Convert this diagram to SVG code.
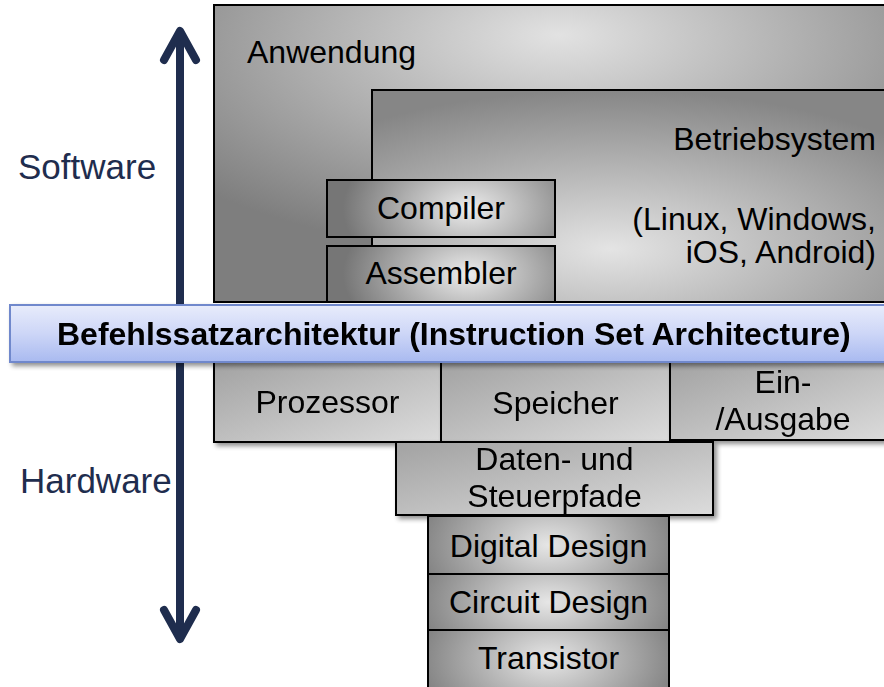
<svg xmlns="http://www.w3.org/2000/svg" width="884" height="687" viewBox="0 0 884 687">
<defs>
  <radialGradient id="gApp" cx="0.5" cy="0.15" r="0.7" fx="0.5" fy="0.1">
    <stop offset="0" stop-color="#e2e2e2"/>
    <stop offset="1" stop-color="#7e7e7e"/>
  </radialGradient>
  <radialGradient id="gOS" cx="0.45" cy="0.75" r="0.75">
    <stop offset="0" stop-color="#e4e4e4"/>
    <stop offset="1" stop-color="#868686"/>
  </radialGradient>
  <radialGradient id="gStack" cx="0.62" cy="0.5" r="0.55" gradientTransform="translate(0.62 0.5) scale(1 2.5) translate(-0.62 -0.5)">
    <stop offset="0" stop-color="#ececec"/>
    <stop offset="1" stop-color="#767676"/>
  </radialGradient>
  <radialGradient id="gLow" cx="0.5" cy="0.5" r="0.6" gradientTransform="translate(0.5 0.5) scale(1 2.5) translate(-0.5 -0.5)">
    <stop offset="0" stop-color="#e6e6e6"/>
    <stop offset="1" stop-color="#777777"/>
  </radialGradient>
  <linearGradient id="gHw" x1="0" y1="0" x2="1" y2="1">
    <stop offset="0" stop-color="#a2a2a2"/>
    <stop offset="1" stop-color="#dcdcdc"/>
  </linearGradient>
  <linearGradient id="gIsa" x1="0" y1="0" x2="0" y2="1">
    <stop offset="0" stop-color="#e8ecfb"/>
    <stop offset="0.5" stop-color="#cdd6f7"/>
    <stop offset="1" stop-color="#a9baf0"/>
  </linearGradient>
  <filter id="shadow" x="-5%" y="-10%" width="115%" height="130%">
    <feGaussianBlur in="SourceAlpha" stdDeviation="2.5"/>
    <feOffset dx="3" dy="3" result="b"/>
    <feComponentTransfer><feFuncA type="linear" slope="0.45"/></feComponentTransfer>
    <feMerge><feMergeNode/><feMergeNode in="SourceGraphic"/></feMerge>
  </filter>
</defs>
<style>
  .box { stroke: #000000; stroke-width: 2; }
  .t { font-family: "Liberation Sans", Arial, sans-serif; font-size: 32px; fill: #000000; }
  .c { text-anchor: middle; }
  .r { text-anchor: end; }
  .lbl { font-family: "Liberation Sans", Arial, sans-serif; font-size: 35px; fill: #1f2d4e; }
  .arr { stroke: #1f2d4e; stroke-width: 8; fill: none; stroke-linecap: round; stroke-linejoin: round; }
</style>

<g id="connectors">
  <line class="arr" x1="180" y1="33" x2="180" y2="637"/>
  <polyline class="arr" points="164,60 180,31 196,60"/>
  <polyline class="arr" points="164,610 180,639 196,610"/>
</g>

<g id="label-software"><text class="lbl" x="18" y="179">Software</text></g>
<g id="label-hardware"><text class="lbl" x="20" y="493">Hardware</text></g>

<g id="anwendung">
  <rect class="box" x="214" y="5" width="690" height="297" fill="url(#gApp)"/>
  <text class="t" x="247" y="63">Anwendung</text>
</g>

<g id="betriebssystem">
  <rect class="box" x="372" y="90" width="530" height="212" fill="url(#gOS)"/>
  <text class="t r" x="876" y="150">Betriebsystem</text>
  <text class="t r" x="876" y="230">(Linux, Windows,</text>
  <text class="t r" x="876" y="263">iOS, Android)</text>
</g>

<g id="compiler">
  <rect class="box" x="327" y="180" width="228" height="57" fill="url(#gStack)"/>
  <text class="t c" x="441" y="219">Compiler</text>
</g>

<g id="assembler">
  <rect class="box" x="327" y="246" width="228" height="56" fill="url(#gStack)"/>
  <text class="t c" x="441" y="284">Assembler</text>
</g>

<g id="prozessor" filter="url(#shadow)">
  <rect class="box" x="214" y="362" width="227" height="80" fill="url(#gHw)"/>
  <text class="t c" x="327.5" y="413">Prozessor</text>
</g>

<g id="speicher" filter="url(#shadow)">
  <rect class="box" x="441" y="362" width="229" height="80" fill="url(#gHw)"/>
  <text class="t c" x="555.5" y="414">Speicher</text>
</g>

<g id="ein-ausgabe" filter="url(#shadow)">
  <rect class="box" x="670" y="362" width="226" height="78" fill="url(#gHw)"/>
  <text class="t c" x="783" y="393">Ein-</text>
  <text class="t c" x="783" y="430">/Ausgabe</text>
</g>

<g id="datenpfade" filter="url(#shadow)">
  <rect class="box" x="396" y="442" width="317" height="73" fill="url(#gHw)"/>
  <text class="t c" x="554.5" y="470">Daten- und</text>
  <text class="t c" x="554.5" y="507">Steuerpfade</text>
</g>

<g id="digital-design">
  <rect class="box" x="428" y="516" width="241" height="58" fill="url(#gLow)"/>
  <text class="t c" x="548.5" y="557">Digital Design</text>
</g>

<g id="circuit-design">
  <rect class="box" x="428" y="574" width="241" height="56" fill="url(#gLow)"/>
  <text class="t c" x="548.5" y="613">Circuit Design</text>
</g>

<g id="transistor">
  <rect class="box" x="428" y="630" width="241" height="58" fill="url(#gLow)"/>
  <text class="t c" x="548.5" y="669">Transistor</text>
</g>

<g id="isa" filter="url(#shadow)">
  <rect x="10" y="305" width="890" height="57" fill="url(#gIsa)" stroke="#6f88cc" stroke-width="2"/>
  <text class="t" x="57" y="345" style="font-weight:bold">Befehlssatzarchitektur (Instruction Set Architecture)</text>
</g>
</svg>
